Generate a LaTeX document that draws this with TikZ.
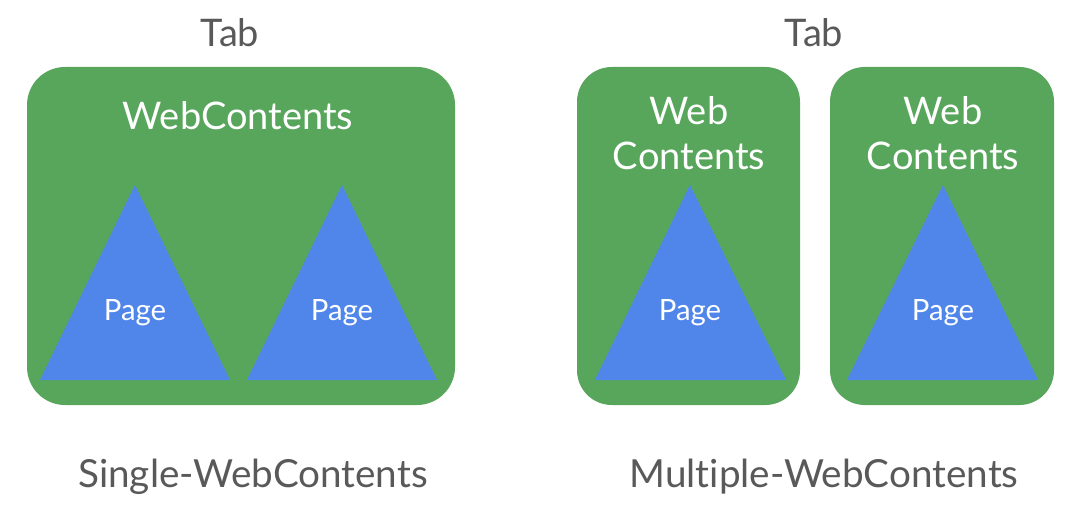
\documentclass[tikz,border=0pt]{standalone}
\usepackage{fontspec}
\setmainfont{Lato}[Ligatures=NoCommon]
\definecolor{wcgreen}{RGB}{88,166,92}
\definecolor{pgblue}{RGB}{80,134,234}
\definecolor{txtgray}{RGB}{89,89,89}
\tikzset{
  wcbox/.style={fill=wcgreen},
  pagetri/.style={fill=pgblue},
  captxt/.style={anchor=base, inner sep=0pt, text=txtgray, font=\fontsize{28.5}{30}\selectfont},
  labtxt/.style={anchor=base, inner sep=0pt, text=txtgray, font=\fontsize{29}{30}\selectfont},
  wctxt/.style={anchor=base, inner sep=0pt, text=white, font=\fontsize{28.5}{30}\selectfont},
  pgtxt/.style={anchor=base, inner sep=0pt, text=white, font=\fontsize{22}{24}\selectfont},
}
\begin{document}
\begin{tikzpicture}[x=0.75pt, y=-0.75pt]
\useasboundingbox (0,0) rectangle (1080,513);
% boxes
\fill[wcbox, rounded corners=28.5pt] (27,67) rectangle (455,405);
\fill[wcbox, rounded corners=26pt] (577,67) rectangle (800,405);
\fill[wcbox, rounded corners=26pt] (830,67) rectangle (1054,405);
% triangles
\fill[pagetri] (135,185) -- (230,380) -- (40,380) -- cycle;
\fill[pagetri] (342,185) -- (437,380) -- (247,380) -- cycle;
\fill[pagetri] (690,185) -- (786,380) -- (595,380) -- cycle;
\fill[pagetri] (943,185) -- (1038,380) -- (847,380) -- cycle;
% texts
\node[captxt] (tab1) at (230,47) {Tab};
\node[captxt] (tab2) at (814,47) {Tab};
\node[wctxt] (wc1) at (238,130) {WebContents};
\node[wctxt] (wc2a) at (689,125) {Web};
\node[wctxt] (wc2b) at (689,170) {Contents};
\node[wctxt] (wc3a) at (943,125) {Web};
\node[wctxt] (wc3b) at (943,170) {Contents};
\node[pgtxt] (p1) at (135,320) {Page};
\node[pgtxt] (p2) at (342,320) {Page};
\node[pgtxt] (p3) at (690,320) {Page};
\node[pgtxt] (p4) at (943,320) {Page};
\node[labtxt] (lab1) at (253,487) {Single-WebContents};
\node[labtxt] (lab2) at (824,487) {Multiple-WebContents};
\end{tikzpicture}
\end{document}
